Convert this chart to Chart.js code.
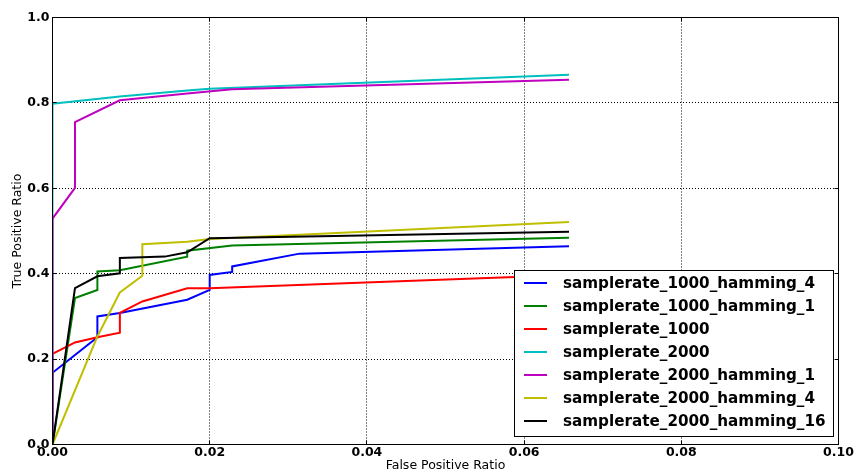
<!DOCTYPE html>
<html lang="en">
<head>
<meta charset="UTF-8">
<title>ROC curves</title>
<script src="https://cdn.jsdelivr.net/npm/chart.js@4"></script>
<style>
  html, body { margin: 0; padding: 0; background: #fff; }
  #wrap { width: 860px; height: 475px; position: relative; }
</style>
</head>
<body>
<div id="wrap"><canvas id="roc"></canvas></div>
<script>
// legend names and matplotlib "classic" colours
const seriesNames = [
  'samplerate_1000_hamming_4',
  'samplerate_1000_hamming_1',
  'samplerate_1000',
  'samplerate_2000',
  'samplerate_2000_hamming_1',
  'samplerate_2000_hamming_4',
  'samplerate_2000_hamming_16'
];
const seriesColors = ['#0000ff', '#008000', '#ff0000', '#00bfbf', '#bf00bf', '#bfbf00', '#000000'];

const xTicks = [0, 0.02, 0.04, 0.06, 0.08, 0.10];
const yTicks = [0, 0.2, 0.4, 0.6, 0.8, 1.0];

// [false positive ratio, true positive ratio]
const sr1000Ham4 = [[0, 0], [0, 0.168], [0.00571, 0.251], [0.00571, 0.300], [0.00857, 0.308],
  [0.01714, 0.339], [0.02, 0.362], [0.02, 0.397], [0.02286, 0.404], [0.02286, 0.417],
  [0.03143, 0.447], [0.06571, 0.464]];
const sr1000Ham1 = [[0, 0], [0.00286, 0.343], [0.00571, 0.362], [0.00571, 0.405], [0.00857, 0.408],
  [0.01714, 0.440], [0.01714, 0.454], [0.02286, 0.466], [0.06571, 0.484]];
const sr1000 = [[0, 0], [0, 0.212], [0.00286, 0.239], [0.00571, 0.251], [0.00857, 0.262],
  [0.00857, 0.308], [0.01143, 0.335], [0.01714, 0.366], [0.02, 0.366], [0.06571, 0.397]];
const sr2000 = [[0, 0], [0, 0.798], [0.00857, 0.815], [0.01714, 0.829], [0.02, 0.833], [0.06571, 0.866]];
const sr2000Ham1 = [[0, 0], [0, 0.529], [0.00286, 0.601], [0.00286, 0.755], [0.00857, 0.806],
  [0.01714, 0.822], [0.02286, 0.832], [0.06571, 0.854]];
const sr2000Ham4 = [[0, 0], [0.00571, 0.253], [0.00857, 0.356], [0.01143, 0.395], [0.01143, 0.469],
  [0.01714, 0.475], [0.02, 0.481], [0.06571, 0.521]];
const sr2000Ham16 = [[0, 0], [0.00286, 0.366], [0.00571, 0.394], [0.00857, 0.401], [0.00857, 0.437],
  [0.01429, 0.440], [0.01714, 0.450], [0.02, 0.483], [0.06571, 0.498]];

const allSeries = [sr1000Ham4, sr1000Ham1, sr1000, sr2000, sr2000Ham1, sr2000Ham4, sr2000Ham16];

const FONT = "'DejaVu Sans', sans-serif";

// frame, inward ticks and the in-plot legend (matplotlib style)
const frameAndLegend = {
  id: 'frameAndLegend',
  afterDatasetsDraw(chart) {
    const { ctx, chartArea: a, scales: { x, y } } = chart;
    ctx.save();
    ctx.strokeStyle = '#000';
    ctx.lineWidth = 1;
    ctx.strokeRect(a.left, a.top, a.right - a.left, a.bottom - a.top);

    ctx.beginPath();
    xTicks.forEach(v => {
      const px = Math.round(x.getPixelForValue(v) - 0.5) + 0.5;
      ctx.moveTo(px, a.bottom); ctx.lineTo(px, a.bottom - 4);
      ctx.moveTo(px, a.top); ctx.lineTo(px, a.top + 4);
    });
    yTicks.forEach(v => {
      const py = Math.round(y.getPixelForValue(v) - 0.5) + 0.5;
      ctx.moveTo(a.left, py); ctx.lineTo(a.left + 4, py);
      ctx.moveTo(a.right, py); ctx.lineTo(a.right - 4, py);
    });
    ctx.stroke();

    // legend box
    const lx = 514.5, ly = 270.5, lw = 319, lh = 166;
    ctx.fillStyle = '#fff';
    ctx.fillRect(lx, ly, lw, lh);
    ctx.strokeRect(lx, ly, lw, lh);
    ctx.font = 'bold 15.2px ' + FONT;
    ctx.textBaseline = 'middle';
    ctx.textAlign = 'left';
    seriesNames.forEach((name, i) => {
      const rowY = 283 + i * 23;
      ctx.strokeStyle = seriesColors[i];
      ctx.lineWidth = 2;
      ctx.beginPath();
      ctx.moveTo(524, rowY); ctx.lineTo(547, rowY);
      ctx.stroke();
      ctx.fillStyle = '#000';
      ctx.fillText(name, 563, rowY + 1);
    });
    ctx.restore();
  }
};

new Chart(document.getElementById('roc'), {
  type: 'scatter',
  data: {
    datasets: allSeries.map((pts, i) => ({
      label: seriesNames[i],
      data: pts.map(p => ({ x: p[0], y: p[1] })),
      showLine: true,
      borderColor: seriesColors[i],
      backgroundColor: seriesColors[i],
      borderWidth: 2,
      pointRadius: 0,
      tension: 0,
      order: allSeries.length - i
    }))
  },
  options: {
    responsive: true,
    maintainAspectRatio: false,
    animation: false,
    devicePixelRatio: 1,
    layout: { padding: { top: 17.5, right: 21.5, left: 0, bottom: 0 } },
    plugins: { legend: { display: false }, tooltip: { enabled: false } },
    scales: {
      x: {
        type: 'linear',
        min: 0, max: 0.1,
        afterBuildTicks: s => { s.ticks = xTicks.map(v => ({ value: v })); },
        afterFit: s => { s.height = 30.5; },
        border: { display: false, dash: [1, 2] },
        grid: { color: '#000', lineWidth: 1, drawTicks: false },
        ticks: {
          padding: 1,
          maxRotation: 0,
          color: '#000',
          font: { family: FONT, size: 12.5, weight: 'bold' },
          callback: v => Number(v).toFixed(2)
        },
        title: {
          display: true, text: 'False Positive Ratio', color: '#000',
          font: { family: FONT, size: 12.5 }, padding: { top: 0, bottom: 1.5 }
        }
      },
      y: {
        type: 'linear',
        min: 0, max: 1,
        afterBuildTicks: s => { s.ticks = yTicks.map(v => ({ value: v })); },
        afterFit: s => { s.width = 52.5; },
        border: { display: false, dash: [1, 2] },
        grid: { color: '#000', lineWidth: 1, drawTicks: false },
        ticks: {
          padding: 3,
          color: '#000',
          font: { family: FONT, size: 12.5, weight: 'bold' },
          callback: v => Number(v).toFixed(1)
        },
        title: {
          display: true, text: 'True Positive Ratio', color: '#000',
          font: { family: FONT, size: 12.5 }, padding: { top: 10.5, bottom: 0 }
        }
      }
    }
  },
  plugins: [frameAndLegend]
});
</script>
</body>
</html>
